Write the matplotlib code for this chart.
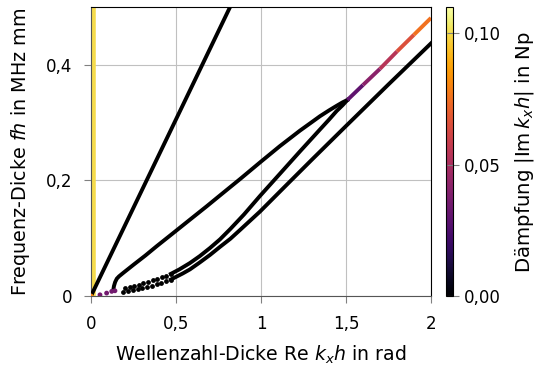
import numpy as np
import matplotlib
matplotlib.use('Agg')
import matplotlib.pyplot as plt
from matplotlib.collections import LineCollection
from matplotlib.ticker import FuncFormatter

plt.rcParams['font.family'] = ['DejaVu Sans']
plt.rcParams['mathtext.fontset'] = 'dejavusans'

# straight mode through origin
straight_x = [0.0, 1.0]
straight_y = [0.0, 0.611]

# strongly damped mode near Re kh = 0
vert_x = [0.014, 0.014]
vert_y = [0.0, 0.5]
vert_att = 0.100

# upper branch of the loop
upper_x = [0.131, 0.135, 0.142, 0.152, 0.165, 0.19, 0.25, 0.32, 0.386, 0.48, 0.582, 0.68,
           0.759, 0.88, 0.994, 1.11, 1.229, 1.30, 1.347, 1.40, 1.445, 1.48, 1.508]
upper_y = [0.010, 0.017, 0.024, 0.030, 0.034, 0.040, 0.054, 0.070, 0.086, 0.108, 0.132, 0.155,
           0.174, 0.203, 0.231, 0.259, 0.286, 0.301, 0.311, 0.321, 0.329, 0.335, 0.339]

# lower branch of the loop (dotted start, then solid)
mid_dot_x = [0.20, 0.227, 0.254, 0.281, 0.308, 0.335, 0.362, 0.389, 0.416, 0.443, 0.47]
mid_dot_y = [0.013, 0.015, 0.0172, 0.0195, 0.0218, 0.0243, 0.0268, 0.0295, 0.0322, 0.035, 0.0383]
mid_x = [0.47, 0.52, 0.582, 0.64, 0.70, 0.759, 0.82, 0.90, 0.994, 1.11, 1.229, 1.35, 1.40,
         1.445, 1.48, 1.508]
mid_y = [0.0383, 0.046, 0.057, 0.069, 0.083, 0.098, 0.116, 0.141, 0.173, 0.211, 0.250, 0.289, 0.305,
         0.320, 0.330, 0.339]

# third branch
third_dot_x = [0.19, 0.218, 0.246, 0.274, 0.302, 0.33, 0.358, 0.386, 0.414, 0.442, 0.47]
third_dot_y = [0.0075, 0.009, 0.0104, 0.012, 0.0138, 0.0158, 0.018, 0.0205, 0.0229, 0.0256, 0.0285]
third_x = [0.47, 0.54, 0.582, 0.64, 0.70, 0.759, 0.82, 0.876, 0.994, 1.15, 1.30, 1.50, 1.75, 2.0]
third_y = [0.0285, 0.039, 0.046, 0.058, 0.071, 0.085, 0.099, 0.114, 0.146, 0.192, 0.236, 0.294, 0.366, 0.437]

# damped continuation after the loop tip
tail_x = [1.508, 1.6, 1.7, 1.8, 1.9, 2.0]
tail_y = [0.339, 0.365, 0.393, 0.423, 0.452, 0.481]
tail_att = [0.025, 0.035, 0.048, 0.060, 0.071, 0.080]

# damped dots near origin
low_x = [0.0, 0.053, 0.092, 0.122, 0.141]
low_y = [0.0, 0.002, 0.005, 0.008, 0.009]
low_att = [0.08, 0.035, 0.035, 0.035, 0.035]

cmap = plt.get_cmap('inferno')
norm = plt.Normalize(0.0, 0.11)

fig = plt.figure(figsize=(5.39, 3.66), dpi=100)
ax = fig.add_axes([0.1688, 0.1913, 0.6308, 0.7897])
cax = fig.add_axes([0.8275, 0.1913, 0.013, 0.7897])

lw = 2.8
ax.plot(straight_x, straight_y, color='black', lw=lw, zorder=3)
ax.plot(upper_x, upper_y, color='black', lw=lw, zorder=3, solid_joinstyle='round')
ax.plot(mid_x, mid_y, color='black', lw=lw, zorder=3, solid_joinstyle='round')
ax.plot(third_x, third_y, color='black', lw=lw, zorder=3, solid_joinstyle='round')
ax.scatter(mid_dot_x, mid_dot_y, s=12, color='black', zorder=3, linewidths=0)
ax.scatter(third_dot_x, third_dot_y, s=12, color='black', zorder=3, linewidths=0)
ax.plot(vert_x, vert_y, color=cmap(norm(vert_att)), lw=4, zorder=2)

pts = np.array([tail_x, tail_y]).T.reshape(-1, 1, 2)
segs = np.concatenate([pts[:-1], pts[1:]], axis=1)
seg_att = [(a + b) / 2 for a, b in zip(tail_att[:-1], tail_att[1:])]
lc = LineCollection(segs, cmap=cmap, norm=norm, linewidths=lw, zorder=4)
lc.set_array(np.array(seg_att))
ax.add_collection(lc)

ax.scatter(low_x, low_y, c=low_att, cmap=cmap, norm=norm, s=12, linewidths=0, zorder=4)

ax.set_xlim(0, 2)
ax.set_ylim(0, 0.5)
ax.set_xticks([0, 0.5, 1, 1.5, 2])
ax.set_yticks([0, 0.2, 0.4])

def comma(v, pos):
    s = f'{v:g}'
    return s.replace('.', ',')

ax.xaxis.set_major_formatter(FuncFormatter(comma))
ax.yaxis.set_major_formatter(FuncFormatter(comma))
ax.grid(True, color='#c0c0c0', lw=0.8)
ax.set_axisbelow(True)
ax.tick_params(direction='out', length=5, color='#808080', labelsize=12, pad=8.5)
for s in ['left', 'bottom']:
    ax.spines[s].set_color('#555555')
for s in ['top', 'right']:
    ax.spines[s].set_color('black')

ax.set_xlabel(r'Wellenzahl-Dicke Re $k_x h$ in rad', fontsize=13.6, labelpad=8)
ax.set_ylabel(r'Frequenz-Dicke $fh$ in MHz mm', fontsize=13.8, labelpad=10)

sm = plt.cm.ScalarMappable(cmap=cmap, norm=norm)
cb = fig.colorbar(sm, cax=cax)
cb.set_ticks([0, 0.05, 0.10])
cb.set_ticklabels(['0,00', '0,05', '0,10'])
cb.ax.tick_params(direction='inout', length=8, color='#808080', labelsize=12)
cb.outline.set_edgecolor('black')
cb.set_label(r'Dämpfung $|\mathrm{Im}\,k_x h|$ in Np', fontsize=14.2, labelpad=9)

plt.savefig('out.png', dpi=100)
